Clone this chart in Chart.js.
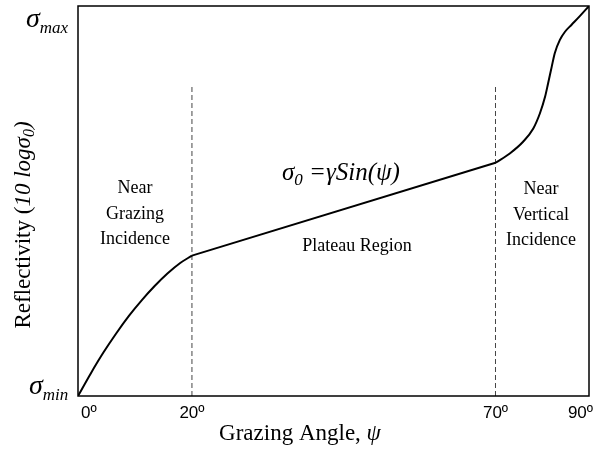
<!DOCTYPE html>
<html>
<head>
<meta charset="utf-8">
<script src="https://cdn.jsdelivr.net/npm/chart.js@4.4.1/dist/chart.umd.min.js"></script>
<style>
    body { margin: 0; background: #fff; }
    #wrap { width: 594px; height: 450px; }
</style>
</head>
<body>
<div id="wrap"><canvas id="reflect" width="594" height="450"></canvas></div>
<script>
/*
        Reflectivity vs grazing angle sketch.
    x is the position along the angle axis (0-100 of its span), y is relative reflectivity (0-100).
*/

const tickPos = [0, 22.3, 81.7, 100];
const tickLabels = ["0\u00BA", "20\u00BA", "70\u00BA", "90\u00BA"];

// near grazing part of the curve
const grazingX = [0, 2.5, 5.0, 7.5, 10.0, 12.5, 15.0, 17.5, 20.0, 22.3];
const grazingY = [0, 5.8, 11.2, 16.1, 20.6, 24.6, 28.2, 31.4, 34.1, 36.0];

// plateau, straight line
const plateauX = [22.3, 81.7];
const plateauY = [36.0, 59.8];

// near vertical part
const verticalX = [81.7, 84.5, 87.1, 89.1, 90.4, 91.4, 92.0, 92.7, 93.3, 94.3, 95.3, 96.6, 98.2, 100];
const verticalY = [59.8, 62.2, 65.2, 68.6, 72.5, 76.7, 80.2, 84.4, 87.9, 91.3, 93.4, 95.2, 97.4, 100];

// region boundaries (dashed)
const boundaryX = [22.3, 81.7];
const boundaryTop = 79.7;

const serif = "'Liberation Serif', 'Times New Roman', serif";
const sans = "'Liberation Sans', Arial, sans-serif";

function toPoints(xs, ys) {
    return xs.map((x, i) => ({ x: x, y: ys[i] }));
}

// draws a row of text pieces (font, offset) starting at x
function drawRuns(ctx, runs, x, y, align) {
    let total = 0;
    runs.forEach((r) => { ctx.font = r.font; total += ctx.measureText(r.text).width; });
    let cx = align === "center" ? x - total / 2 : x;
    ctx.textAlign = "left";
    runs.forEach((r) => {
        ctx.font = r.font;
        ctx.fillText(r.text, cx, y + (r.dy || 0));
        cx += ctx.measureText(r.text).width;
    });
}

const labelsPlugin = {
    id: "labels",
    afterDraw(chart) {
        const ctx = chart.ctx;
        const area = chart.chartArea;
        const xs = chart.scales.x;
        const ys = chart.scales.y;

        ctx.save();
        // plot frame
        ctx.strokeStyle = "#000";
        ctx.lineWidth = 1.5;
        ctx.strokeRect(area.left, area.top, area.right - area.left, area.bottom - area.top);

        ctx.fillStyle = "#000";
        ctx.textBaseline = "alphabetic";

        // angle ticks
        ctx.font = "17px " + sans;
        tickPos.forEach((p, i) => {
            let px = xs.getPixelForValue(p);
            if (i === 0) { ctx.textAlign = "left"; px += 3; }
            else if (i === tickPos.length - 1) { ctx.textAlign = "right"; px += 4; }
            else ctx.textAlign = "center";
            ctx.fillText(tickLabels[i], px, area.bottom + 22);
        });

        // axis titles
        drawRuns(ctx, [
            { text: "Grazing Angle, ", font: "23px " + serif },
            { text: "\u03C8", font: "italic 23px " + serif }
        ], 300, 440, "center");

        ctx.save();
        ctx.translate(30, 225);
        ctx.rotate(-Math.PI / 2);
        drawRuns(ctx, [
            { text: "Reflectivity (", font: "23px " + serif },
            { text: "10 log\u03C3", font: "italic 23px " + serif },
            { text: "0", font: "italic 16px " + serif, dy: 4 },
            { text: ")", font: "italic 23px " + serif }
        ], 0, 0, "center");
        ctx.restore();

        // sigma max / min on the y axis
        drawRuns(ctx, [
            { text: "\u03C3", font: "italic 28px " + serif },
            { text: "max", font: "italic 17px " + serif, dy: 6 }
        ], 26, ys.getPixelForValue(100) + 21, "left");
        drawRuns(ctx, [
            { text: "\u03C3", font: "italic 28px " + serif },
            { text: "min", font: "italic 17px " + serif, dy: 6 }
        ], 29, ys.getPixelForValue(0) - 2, "left");

        // region names
        ctx.font = "18px " + serif;
        ctx.textAlign = "center";
        ["Near", "Grazing", "Incidence"].forEach((t, i) => ctx.fillText(t, 135, 193 + i * 25.5));
        ["Near", "Vertical", "Incidence"].forEach((t, i) => ctx.fillText(t, 541, 194 + i * 25.5));
        ctx.fillText("Plateau Region", 357, 251);

        // plateau formula
        drawRuns(ctx, [
            { text: "\u03C3", font: "italic 25px " + serif },
            { text: "0", font: "italic 17px " + serif, dy: 5 },
            { text: " =\u03B3Sin(\u03C8)", font: "italic 25px " + serif }
        ], 282, 180, "left");
        ctx.restore();
    }
};

const curveStyle = {
    borderColor: "#000",
    borderWidth: 2,
    pointRadius: 0,
    fill: false
};

new Chart(document.getElementById("reflect").getContext("2d"), {
    type: "scatter",
    plugins: [labelsPlugin],
    data: {
        datasets: [
            Object.assign({ data: toPoints(grazingX, grazingY), showLine: true, cubicInterpolationMode: "monotone" }, curveStyle),
            Object.assign({ data: toPoints(plateauX, plateauY), showLine: true }, curveStyle),
            Object.assign({ data: toPoints(verticalX, verticalY), showLine: true, cubicInterpolationMode: "monotone" }, curveStyle),
            ...boundaryX.map((bx) => ({
                data: [{ x: bx, y: 0 }, { x: bx, y: boundaryTop }],
                showLine: true,
                borderColor: "#444",
                borderWidth: 1,
                borderDash: [5, 3],
                pointRadius: 0
            }))
        ]
    },
    options: {
        responsive: false,
        animation: false,
        layout: { padding: { left: 78, top: 6, right: 5, bottom: 54 } },
        plugins: { legend: { display: false }, tooltip: { enabled: false } },
        scales: {
            x: { type: "linear", min: 0, max: 100, display: false },
            y: { type: "linear", min: 0, max: 100, display: false }
        }
    }
});
</script>
</body>
</html>
